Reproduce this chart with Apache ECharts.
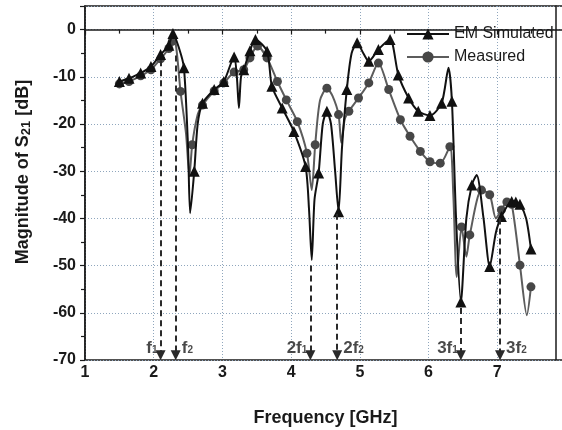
<!DOCTYPE html>
<html>
<head>
<meta charset="utf-8">
<script src="https://cdn.jsdelivr.net/npm/echarts@6/dist/echarts.min.js"></script>
<style>
html,body{margin:0;padding:0;background:#fff}
#chart{width:562px;height:430px}
</style>
</head>
<body>
<div id="chart"></div>
<script>
// EM simulated curve (mark=1 -> triangle drawn on that point)
var emFreq=[1.50,1.64,1.81,1.96,2.10,2.22,2.28,2.37,2.44,2.50,2.53,2.59,2.64,2.71,2.88,3.02,3.17,3.21,3.24,3.27,3.31,3.40,3.48,3.65,3.72,3.87,4.04,4.21,4.26,4.30,4.34,4.40,4.46,4.52,4.58,4.64,4.69,4.74,4.81,4.88,4.96,5.05,5.13,5.27,5.44,5.56,5.71,5.85,6.02,6.19,6.29,6.34,6.40,6.47,6.55,6.63,6.70,6.80,6.89,6.98,7.06,7.21,7.27,7.33,7.42,7.49];
var emDb=[-11.0,-10.3,-9.2,-7.8,-5.3,-3.3,-0.8,-4.0,-8.1,-25,-38.9,-30,-20,-15.6,-12.7,-11.0,-5.8,-10,-16.6,-10,-8.5,-4.5,-2.1,-4.6,-12,-16.6,-21.6,-29,-38,-48.8,-36,-30.4,-20,-17.3,-20,-30,-38.6,-25,-12.7,-5,-2.8,-5,-6.7,-4.2,-2.1,-9.6,-14.5,-17.3,-18.2,-15.6,-8.1,-15.2,-40,-57.7,-40,-32.9,-30.8,-40,-50.2,-43,-39.6,-36.4,-36.5,-37,-40,-46.5];
var emMark=[1,1,1,1,1,1,1,0,1,0,0,1,0,1,1,1,1,0,0,0,1,1,1,1,1,1,1,1,0,0,0,1,0,1,0,0,1,0,1,0,1,0,1,1,1,1,1,1,1,1,0,1,0,1,0,1,0,0,1,0,1,1,1,1,0,1];

// measured curve (mark=1 -> circle drawn on that point)
var msFreq=[1.50,1.64,1.81,1.96,2.10,2.22,2.27,2.32,2.39,2.47,2.52,2.56,2.64,2.71,2.88,3.02,3.17,3.31,3.40,3.51,3.65,3.80,3.93,4.09,4.23,4.30,4.35,4.42,4.52,4.60,4.69,4.73,4.78,4.84,4.98,5.13,5.27,5.42,5.59,5.73,5.88,6.02,6.17,6.31,6.36,6.41,6.48,6.55,6.60,6.77,6.89,6.98,7.06,7.14,7.21,7.33,7.43,7.49];
var msDb=[-11.5,-11.0,-9.8,-8.5,-6.2,-4.0,-2.5,-3,-13.1,-22,-31,-24.4,-18,-16,-13,-11.3,-9,-8.5,-6,-3.5,-6,-11,-14.9,-19.5,-26.2,-34,-24.4,-15,-12.4,-14,-18,-24,-19,-17.3,-14.5,-11.3,-7.1,-12.7,-19.1,-22.6,-25.8,-28,-28.3,-24.8,-35,-52.4,-41.8,-48.1,-43.5,-34,-35,-40,-38.2,-36.5,-37,-49.9,-60.5,-54.5];
var msMark=[1,1,1,1,1,1,1,0,1,0,0,1,0,1,1,1,1,1,1,1,1,1,1,1,1,0,1,0,1,0,1,0,0,1,1,1,1,1,1,1,1,1,1,1,0,0,1,0,1,1,1,0,1,1,1,1,0,1];

// harmonic arrows
var arrowFreq=[2.10,2.32,4.28,4.67,6.47,7.04];
var arrowTop=[-6.5,-5.5,-50,-39,-59,-40];
var arrowBottom=-69;
var arrowMult=['','','2','2','3','3'];
var arrowSub=['1','2','1','2','1','2'];
var arrowSide=['left','right','left','right','left','right'];
var labelDb=-67.5;

var xTicks={min:1,max:8,interval:1};
var yTicks={min:-70,max:5,interval:10};

var font='"Liberation Sans", Arial, sans-serif';
var ink='#1a1a1a';

function points(f,d,m){
  return f.map(function(x,i){
    var p={value:[x,d[i]]};
    if(!m[i])p.symbol='none';
    return p;
  });
}

var chart=echarts.init(document.getElementById('chart'),null,{renderer:'canvas'});

var option={
  animation:false,
  backgroundColor:'#fff',
  grid:{left:85,top:6,width:481,height:354,outerBoundsMode:'none',containLabel:false,
    show:true,borderColor:ink,borderWidth:1.5,backgroundColor:'transparent'},
  legend:{
    data:['EM Simulated','Measured'],
    orient:'vertical',
    left:401,top:21,
    itemWidth:42,itemHeight:14,itemGap:7,
    textStyle:{fontFamily:font,fontSize:16,color:ink}
  },
  xAxis:{
    type:'value',min:xTicks.min,max:xTicks.max,interval:xTicks.interval,
    name:'Frequency [GHz]',nameLocation:'middle',nameGap:49,
    nameTextStyle:{fontFamily:font,fontSize:18,fontWeight:'bold',color:ink},
    axisLine:{show:true,lineStyle:{color:ink,width:1.5}},
    axisTick:{show:true,inside:false,length:5,lineStyle:{color:ink,width:1.2}},
    minorTick:{show:true,splitNumber:2,length:4,lineStyle:{color:ink,width:1.2}},
    axisLabel:{fontFamily:font,fontSize:16,fontWeight:'bold',color:ink,margin:5},
    splitLine:{show:true,lineStyle:{type:[1,2],color:'#8fa6bd',width:1}}
  },
  yAxis:[{
    type:'value',min:yTicks.min,max:yTicks.max,interval:yTicks.interval,
    name:'{a|Magnitude of S}{s|21}{a| [dB]}',nameLocation:'middle',nameGap:52,nameRotate:90,
    nameTextStyle:{padding:[0,0,0,22],rich:{
      a:{fontFamily:font,fontSize:18,fontWeight:'bold',color:ink},
      s:{fontFamily:font,fontSize:13,fontWeight:'bold',color:ink,padding:[6,0,0,0]}
    }},
    axisLine:{show:true,lineStyle:{color:ink,width:1.5}},
    axisTick:{show:true,inside:false,length:5,lineStyle:{color:ink,width:1.2}},
    minorTick:{show:true,splitNumber:2,length:4,lineStyle:{color:ink,width:1.2}},
    axisLabel:{fontFamily:font,fontSize:16,fontWeight:'bold',color:ink,margin:9,showMaxLabel:false,
      formatter:function(v){return v>0?'':v;}},
    splitLine:{show:true,lineStyle:{type:[1,2],color:'#8fa6bd',width:1}}
  },{
    // right frame edge
    type:'value',position:'right',offset:-10,min:yTicks.min,max:yTicks.max,
    axisLine:{show:true,lineStyle:{color:ink,width:1.5}},
    axisTick:{show:false},axisLabel:{show:false},splitLine:{show:false}
  }],
  series:[
    {
      name:'Measured',type:'line',smooth:0.25,
      data:points(msFreq,msDb,msMark),
      symbol:'circle',symbolSize:9,
      itemStyle:{color:'#474747'},
      lineStyle:{color:'#5c5c5c',width:2},
      z:2
    },
    {
      name:'EM Simulated',type:'line',smooth:0.25,
      data:points(emFreq,emDb,emMark),
      symbol:'triangle',symbolSize:11,
      itemStyle:{color:'#111'},
      lineStyle:{color:'#111',width:2},
      z:3
    },
    {
      name:'arrows',type:'scatter',silent:true,
      symbolSize:0.1,itemStyle:{color:'transparent'},
      data:arrowFreq.map(function(f,i){
        return {value:[f,labelDb],label:{position:arrowSide[i],distance:arrowSide[i]=='left'?3:6}};
      }),
      label:{
        show:true,
        formatter:function(p){
          var i=p.dataIndex;
          return '{m|'+arrowMult[i]+'f}{s|'+arrowSub[i]+'}';
        },
        rich:{
          m:{fontFamily:font,fontSize:17,fontWeight:'bold',color:ink},
          s:{fontFamily:font,fontSize:10,fontWeight:'bold',color:ink,padding:[5,0,0,0]}
        }
      },
      markLine:{
        silent:true,
        symbol:['none','triangle'],symbolSize:10,
        label:{show:false},
        lineStyle:{type:[6,4],color:'#2a2a2a',width:2},
        itemStyle:{color:'#2a2a2a'},
        data:arrowFreq.map(function(f,i){
          return [{coord:[f,arrowTop[i]]},{coord:[f,arrowBottom]}];
        })
      },
      z:1
    }
  ]
};

chart.setOption(option);
</script>
</body>
</html>
